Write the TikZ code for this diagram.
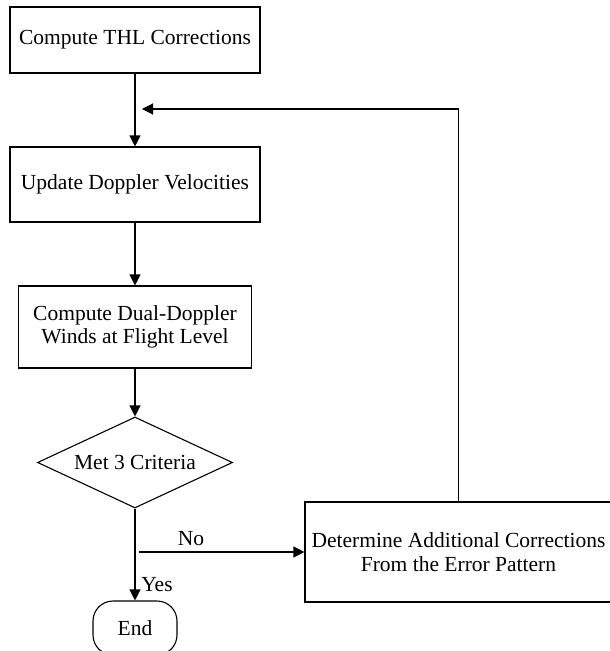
\documentclass[tikz,border=0pt]{standalone}
\usepackage{fontspec}
\setmainfont{Liberation Serif}
\usetikzlibrary{shapes.geometric,arrows.meta}
\begin{document}
\begin{tikzpicture}[x=1pt,y=-1pt,
  every node/.style={font=\fontsize{21.5}{23.5}\selectfont, inner sep=0pt},
  procbox/.style={draw, line width=1.1pt, align=center},
  decision/.style={draw, line width=1.1pt, diamond, shape aspect=2.13},
  term/.style={draw, line width=1.1pt, rounded corners=20pt},
  arr/.style={line width=1.1pt, -{Triangle[length=11pt,width=11pt]}},
  lbl/.style={}
]
\useasboundingbox (0,0) rectangle (610,651);
\clip (0,0) rectangle (610,651);
\node[procbox, minimum width=250, minimum height=66] (b1) at (135,40) {Compute THL Corrections};
\node[procbox, minimum width=250, minimum height=75] (b2) at (135,184.5) {Update Doppler Velocities};
\node[procbox, minimum width=233, minimum height=82] (b3) at (135,327) {Compute Dual-Doppler\\Winds at Flight Level};
\node[decision, minimum width=195, minimum height=91] (crit) at (135,462.5) {Met 3 Criteria};
\node[term, minimum width=84, minimum height=54] (end) at (135,628) {End};
\node[procbox, minimum width=307, minimum height=100] (rb) at (458.5,552) {Determine Additional Corrections\\From the Error Pattern};
\coordinate (nostart) at (139,552);
\coordinate (fbend) at (142,109);
\draw[arr] (b1) -- (b2);
\draw[arr] (b2) -- (b3);
\draw[arr] (b3) -- (crit);
\draw[arr] (crit) -- (end);
\draw[arr] (nostart) -- (rb.west);
\draw[arr] (rb.north) |- (fbend);
\node[lbl] (no) at (191,539) {No};
\node[lbl] (yes) at (157,585) {Yes};
\end{tikzpicture}
\end{document}
